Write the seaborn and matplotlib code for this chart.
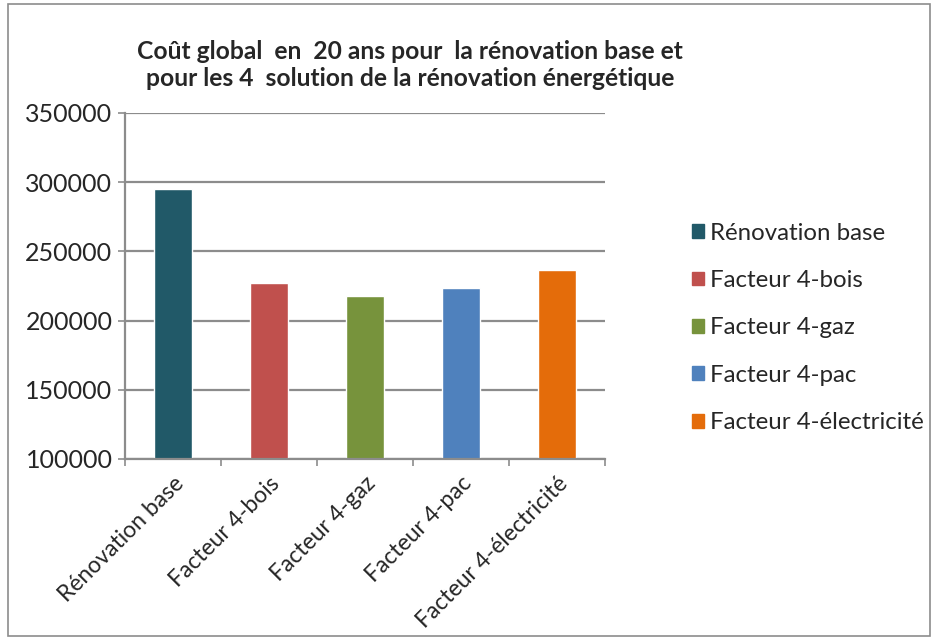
import numpy as np
import pandas as pd
import matplotlib
matplotlib.use("Agg")
import matplotlib.pyplot as plt
from matplotlib.patches import Rectangle
from matplotlib.ticker import FixedLocator
import seaborn as sns

# data
CATEGORIES = ["Rénovation base", "Facteur 4-bois", "Facteur 4-gaz",
              "Facteur 4-pac", "Facteur 4-électricité"]
COUTS = [295000, 227500, 217500, 223500, 236500]
COLORS = ["#215968", "#C0504D", "#77933C", "#4F81BD", "#E46C0A"]
Y_TICKS = [100000, 150000, 200000, 250000, 300000, 350000]
TITLE = "Coût global  en  20 ans pour  la rénovation base et\npour les 4  solution de la rénovation énergétique"

sns.set_style("white")
plt.rcParams["font.family"] = ["Lato", "DejaVu Sans"]

df = pd.DataFrame({"categorie": CATEGORIES, "cout": COUTS})

fig = plt.figure(figsize=(9.36, 6.38), dpi=100)
ax = fig.add_axes([0.1335, 0.2806, 0.5128, 0.5423])

sns.barplot(data=df, x="categorie", y="cout", hue="categorie",
            palette=COLORS, width=0.4, ax=ax, legend=False, saturation=1)

ax.set_ylim(Y_TICKS[0], Y_TICKS[-1])
ax.set_xlim(-0.5, len(CATEGORIES) - 0.5)
ax.set_yticks(Y_TICKS)
ax.set_yticklabels([str(v) for v in Y_TICKS], fontsize=18)
ax.yaxis.grid(True, color="#8c8c8c", linewidth=1.6)
ax.set_axisbelow(True)
ax.tick_params(axis="y", which="major", direction="out", length=5,
               color="#8c8c8c", width=1.2, left=True, pad=4)

# category labels, tick marks between categories
ax.set_xticks(range(len(CATEGORIES)))
ax.set_xticklabels(CATEGORIES, rotation=45, ha="right",
                   rotation_mode="anchor", fontsize=16.5)
ax.tick_params(axis="x", which="major", length=0, pad=10)
ax.xaxis.set_minor_locator(FixedLocator(np.arange(-0.5, len(CATEGORIES), 1.0)))
ax.tick_params(axis="x", which="minor", direction="out", length=5,
               color="#8c8c8c", width=1.2, bottom=True)
ax.set_xlabel("")
ax.set_ylabel("")

for side in ["top", "right"]:
    ax.spines[side].set_visible(False)
for side in ["left", "bottom"]:
    ax.spines[side].set_color("#8c8c8c")
    ax.spines[side].set_linewidth(1.6)

fig.text(0.438, 0.898, TITLE, ha="center", va="center",
         fontsize=17.7, fontweight="bold", linespacing=1.22)

handles = [Rectangle((0, 0), 1, 1, color=c) for c in COLORS]
fig.legend(handles, CATEGORIES, loc="center left",
           bbox_to_anchor=(0.739, 0.486), frameon=False, fontsize=17.3,
           handlelength=0.5, handleheight=0.5, handletextpad=0.25,
           labelspacing=1.1, borderpad=0, borderaxespad=0)

# outer chart border
fig.patches.append(Rectangle((0.009, 0.003), 0.985, 0.99, transform=fig.transFigure,
                             fill=False, edgecolor="#8c8c8c", linewidth=1.2))

fig.savefig("out.png", dpi=100)
